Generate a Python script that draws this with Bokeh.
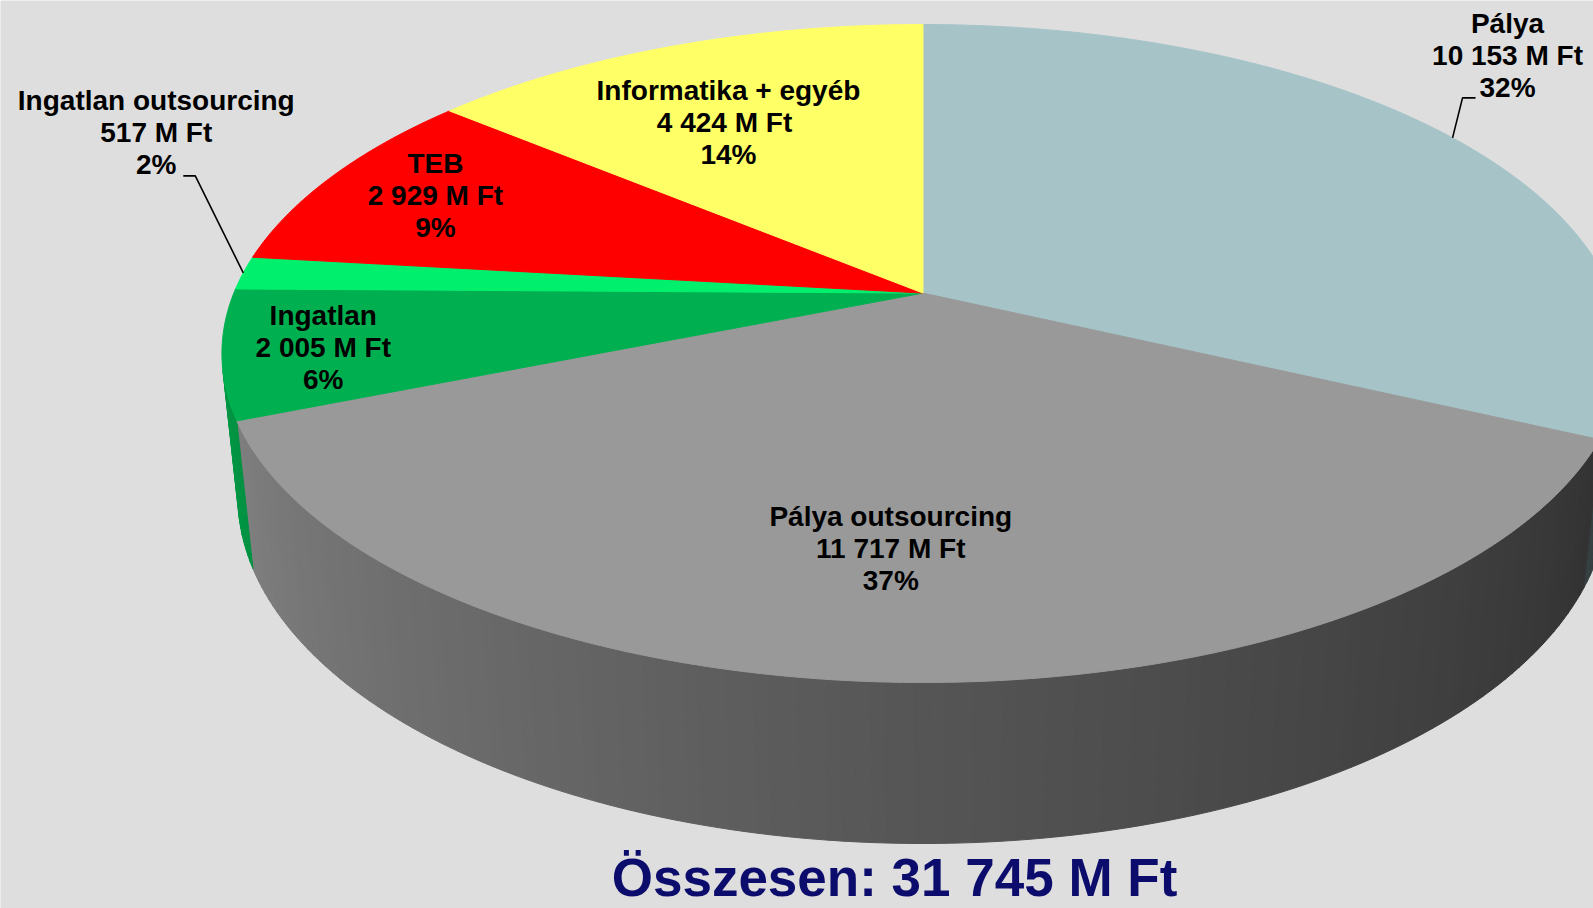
import math
import numpy as np
from bokeh.plotting import figure
from bokeh.models import Range1d, ColumnDataSource
from bokeh.embed import file_html
from bokeh.resources import INLINE
from bokeh.core.properties import value

# ---------------- data ----------------
categories = ["Pálya", "Pálya outsourcing", "Ingatlan", "Ingatlan outsourcing",
              "TEB", "Informatika + egyéb"]
amounts = [10153, 11717, 2005, 517, 2929, 4424]
amount_labels = ["10 153 M Ft", "11 717 M Ft", "2 005 M Ft", "517 M Ft",
                 "2 929 M Ft", "4 424  M Ft"]
percent_labels = ["32%", "37%", "6%", "2%", "9%", "14%"]
total_label = "Összesen: 31 745 M Ft"

# ---------------- style ----------------
slice_colors = ["#a6c4c8", "#999999", "#00b050", "#00f06e", "#ff0000", "#ffff66"]
BG = "#dedede"
FONT = value("Liberation Sans")

# camera / projection (screen pixels, y downwards)
CX, CY = 922.5, 292.6
FOC = 3330.0
DIST = 4.832
PITCH = math.radians(27.47)
THICK = 0.2352
SA, CA = math.sin(PITCH), math.cos(PITCH)


def project(r, theta_deg, height=0.0):
    th = math.radians(theta_deg)
    X = r * math.cos(th)
    Z = -r * math.sin(th)
    Y = height
    z = DIST - Y * SA - Z * CA
    sx = CX + FOC * X / z
    sy = CY + FOC * (Z * SA - Y * CA) / z
    return sx, sy


total = float(sum(amounts))
starts, ends = [], []
a = 90.0
for v in amounts:
    span = 360.0 * v / total
    starts.append(a)
    ends.append(a - span)
    a -= span
mids = [(s + e) / 2 for s, e in zip(starts, ends)]

# visible side range
lim = math.degrees(math.asin(1.0 / (DIST * CA)))
vis_lo, vis_hi = -180.0 + lim, -lim


def shade(th):
    if th < -90:
        return 0.56 + (-90 - th) * 0.004
    return 0.56 - (th + 90) * 0.0035


def scale_color(hexc, f):
    r = int(hexc[1:3], 16); g = int(hexc[3:5], 16); b = int(hexc[5:7], 16)
    return "#%02x%02x%02x" % (min(255, int(r * f)), min(255, int(g * f)), min(255, int(b * f)))


p = figure(width=1593, height=908, x_range=Range1d(0, 1593), y_range=Range1d(908, 0),
           output_backend="svg", toolbar_location=None, min_border=0,
           background_fill_color=BG, border_fill_color=BG, outline_line_color=None)
p.axis.visible = False
p.grid.visible = False

# ---- sides ----
sxs, sys_, scol = [], [], []
for i in range(len(amounts)):
    lo = max(ends[i], vis_lo)
    hi = min(starts[i], vis_hi)
    if hi <= lo:
        continue
    n = max(2, int((hi - lo) / 1.0) + 1)
    grid = np.linspace(lo, hi, n)
    for t1, t2 in zip(grid[:-1], grid[1:]):
        a1 = project(1, t1); a2 = project(1, t2)
        b2 = project(1, t2, -THICK); b1 = project(1, t1, -THICK)
        sxs.append([a1[0], a2[0], b2[0], b1[0]])
        sys_.append([a1[1], a2[1], b2[1], b1[1]])
        scol.append(scale_color(slice_colors[i], shade((t1 + t2) / 2)))
p.patches("xs", "ys", source=ColumnDataSource(dict(xs=sxs, ys=sys_, c=scol)),
          fill_color="c", line_color="c", line_width=1)

# ---- top faces ----
txs, tys = [], []
for i in range(len(amounts)):
    n = max(3, int((starts[i] - ends[i]) / 0.5) + 1)
    arc = np.linspace(starts[i], ends[i], n)
    pts = [project(0, 0)] + [project(1, t) for t in arc]
    txs.append([q[0] for q in pts])
    tys.append([q[1] for q in pts])
p.patches("xs", "ys", source=ColumnDataSource(dict(xs=txs, ys=tys, c=slice_colors)),
          fill_color="c", line_color="c", line_width=1)

# ---- labels ----
# inside labels: radius fraction and pixel nudge; outside: offsets from rim point
label_inside_r = [None, 0.70, 0.893, None, 0.825, 0.657]
label_inside_dx = [0, -17, 24, 0, 5.5, -21.5]
outside = {0: dict(elbow=(10, -40), tick=13, text=(55, -82)),
           3: dict(elbow=(-48, -97), tick=-12, text=(-87, -140))}
LINE_GAP = 32

lx, ly, lt = [], [], []
for i in range(len(amounts)):
    if label_inside_r[i] is not None:
        cx_, cy_ = project(label_inside_r[i], mids[i])
        cx_ += label_inside_dx[i]
    else:
        ex, ey = project(1, mids[i])
        o = outside[i]
        elx, ely = ex + o["elbow"][0], ey + o["elbow"][1]
        p.line([ex, elx, elx + o["tick"]], [ey, ely, ely], line_color="black", line_width=1.6)
        cx_, cy_ = ex + o["text"][0], ey + o["text"][1]
    for k, txt in enumerate([categories[i], amount_labels[i], percent_labels[i]]):
        lx.append(cx_)
        ly.append(cy_ + (k - 1) * LINE_GAP)
        lt.append(txt)

p.text(x="x", y="y", text="t", source=ColumnDataSource(dict(x=lx, y=ly, t=lt)),
       text_font=FONT, text_font_style="bold", text_font_size="28px",
       text_align="center", text_baseline="middle", text_color="black")

p.text(x=[894], y=[877], text=[total_label], text_font=FONT, text_font_style="bold",
       text_font_size="53px", text_align="center", text_baseline="middle",
       text_color="#0c0c6c")

open("out.html", "w").write(file_html(p, INLINE))
